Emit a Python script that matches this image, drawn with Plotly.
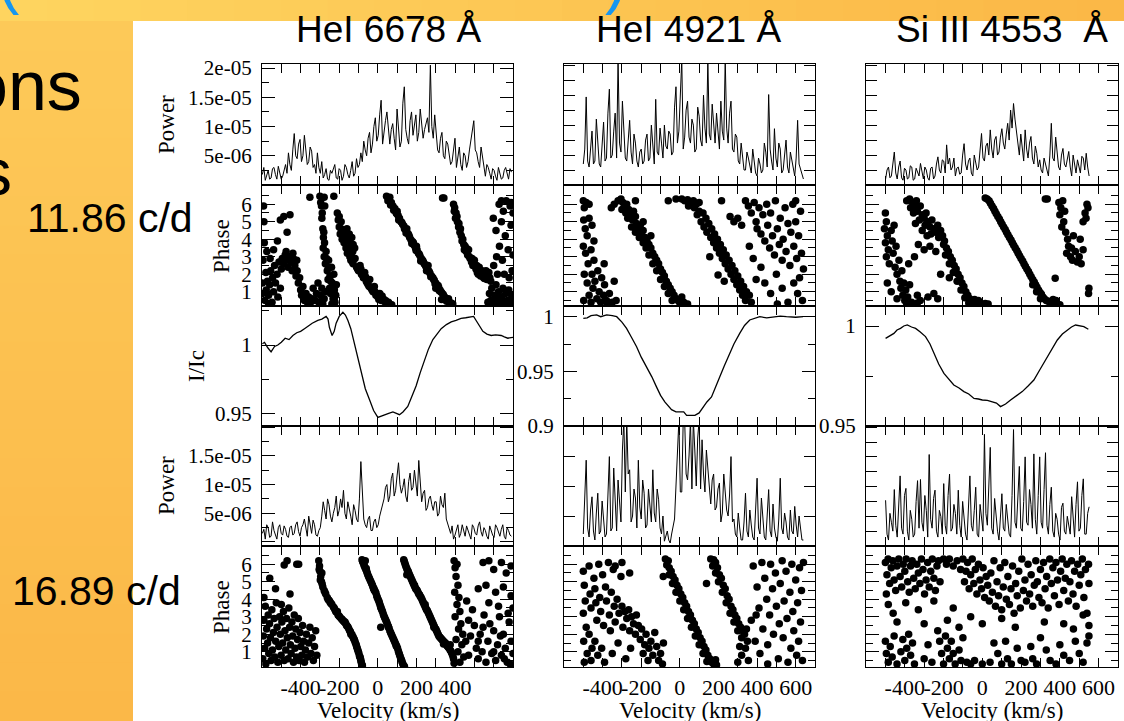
import plotly.graph_objects as go

W, H = 1124, 721

# ---------------- data ----------------
V_HE6678 = [-598,-583,-568,-553,-538,-523,-508,-493,-478,-463,
            -448,-433,-418,-403,-388,-373,-358,-343,-328,-313,
            -298,-283,-268,-253,-238,-223,-208,-193,-178,-163,
            -148,-133,-118,-103,-88,-73,-58,-43,-28,-13,
            2,17,32,47,62,77,92,107,122,137,
            152,167,182,197,212,227,242,257,272,287,
            302,317,332,347,362,377,392,407,422,437,
            452,467,482,497,512,527,542,557,572,587,
            602,617,632,647,662,677,692]
V_HE4921 = [-500,-485,-470,-455,-440,-425,-410,-395,-380,-365,
            -350,-335,-320,-305,-290,-275,-260,-245,-230,-215,
            -200,-185,-170,-155,-140,-125,-110,-95,-80,-65,
            -50,-35,-20,-5,10,25,40,55,70,85,
            100,115,130,145,160,175,190,205,220,235,
            250,265,280,295,310,325,340,355,370,385,
            400,415,430,445,460,475,490,505,520,535,
            550,565,580,595,610,625,640]
V_SI4553 = [-499,-484,-469,-454,-439,-424,-409,-394,-379,-364,
            -349,-334,-319,-304,-289,-274,-259,-244,-229,-214,
            -199,-184,-169,-154,-139,-124,-109,-94,-79,-64,
            -49,-34,-19,-4,11,26,41,56,71,86,
            101,116,131,146,161,176,191,206,221,236,
            251,266,281,296,311,326,341,356,371,386,
            401,416,431,446,461,476,491,506,521,536,
            551]

# power (units of 1e-5) on the grids above, and half-way samples ("MID", 7.5 km/s later)
POW_HE6678_1186 = [0.18,0.08,0.25,0.12,0.30,0.10,0.22,0.15,0.35,
                   0.55,0.25,0.88,0.45,0.78,0.50,0.62,0.40,0.58,
                   0.35,0.55,0.20,0.12,0.28,0.08,0.20,0.35,0.10,0.25,0.15,0.30,0.12,0.40,0.20,0.30,
                   0.55,0.75,0.50,0.90,0.70,1.15,0.85,1.45,0.95,1.25,
                   0.70,1.05,0.60,0.95,0.75,1.68,0.80,1.10,0.85,1.20,
                   0.90,1.10,0.95,1.15,2.05,0.80,0.85,0.55,0.90,0.45,
                   0.70,0.35,0.60,0.30,0.65,0.25,0.50,0.40,0.75,1.10,
                   0.55,0.30,0.45,0.15,0.30,0.10,0.25,0.08,0.20,0.12,
                   0.30,0.10,0.22]
MID_HE6678_1186 = [0.30,0.15,0.10,0.28,0.18,0.32,0.10,0.28,0.20,
                   0.35,0.60,0.50,0.70,0.40,0.85,0.35,0.65,0.30,
                   0.20,0.30,0.40,0.18,0.10,0.25,0.30,0.12,0.28,0.08,0.35,0.18,0.25,0.15,0.45,0.35,
                   0.40,0.60,0.80,0.55,1.00,0.75,1.20,0.70,1.10,0.90,
                   0.95,0.80,1.30,0.65,1.40,0.95,0.70,1.25,1.00,0.75,
                   1.30,0.80,1.05,0.90,1.00,1.20,0.60,0.80,0.50,0.75,
                   0.55,0.40,0.80,0.45,0.35,0.55,0.30,0.60,0.90,0.60,
                   0.40,0.65,0.25,0.35,0.20,0.28,0.15,0.30,0.10,0.25,
                   0.18,0.28]
POW_HE6678_1689 = [0.15,0.05,0.25,0.10,0.20,0.05,0.30,0.12,0.22,0.08,
                   0.28,0.15,0.35,0.10,0.30,0.20,0.45,0.15,0.30,0.10,
                   0.25,0.70,0.40,0.65,0.35,0.60,0.45,0.75,0.90,0.40,
                   0.60,0.30,0.55,0.35,1.40,0.40,0.25,0.45,0.20,0.40,
                   0.30,0.55,0.75,1.00,0.80,1.20,0.90,1.38,0.85,1.10,
                   0.70,1.20,0.95,1.05,1.42,0.70,0.90,0.60,0.80,0.55,
                   0.70,0.50,0.65,0.85,0.30,0.15,0.05,0.20,0.08,0.30,
                   0.10,0.20,0.05,0.25,0.12,0.35,0.10,0.20,0.05,0.18,
                   0.08,0.25,0.10,0.30,0.05,0.20,0.10]
MID_HE6678_1689 = [0.22,0.30,0.08,0.35,0.12,0.25,0.15,0.28,0.10,0.25,
                   0.12,0.30,0.18,0.25,0.40,0.10,0.25,0.38,0.12,0.20,
                   0.45,0.55,0.75,0.45,0.50,0.80,0.55,0.60,0.50,0.70,
                   0.45,0.65,0.40,0.75,0.80,0.30,0.40,0.20,0.35,0.25,
                   0.45,0.70,0.95,0.70,1.10,0.80,1.15,1.00,0.95,0.80,
                   1.05,0.90,1.25,0.80,1.00,0.85,0.55,0.75,0.65,0.70,
                   0.45,0.80,0.60,0.40,0.20,0.28,0.12,0.30,0.15,0.22,
                   0.28,0.10,0.30,0.15,0.28,0.18,0.25,0.10,0.28,0.12,
                   0.30,0.15,0.22,0.10,0.25,0.12]
POW_HE4921_1186 = [0.35,1.47,0.30,0.90,0.40,0.75,0.30,1.05,0.45,1.60,
                   0.50,1.20,2.10,0.55,0.95,0.40,1.08,0.35,0.70,0.30,
                   0.60,0.40,0.85,0.45,0.65,1.43,0.50,0.70,1.00,0.60,
                   0.85,0.55,1.64,0.90,2.10,0.80,1.40,0.70,1.00,0.60,
                   1.15,0.65,0.95,2.10,0.75,1.05,1.20,0.60,0.90,2.10,
                   0.70,1.40,0.55,0.80,0.35,0.50,0.25,0.45,0.20,0.40,
                   0.15,0.35,0.25,0.55,1.51,0.40,0.94,0.30,0.60,0.25,
                   0.75,0.20,0.40,0.15,1.08,0.25,0.10]
MID_HE4921_1186 = [0.60,0.40,0.70,0.35,1.10,0.35,0.80,0.40,1.20,0.45,
                   0.90,0.45,0.70,1.40,0.45,0.75,0.55,0.85,0.40,0.55,
                   0.35,0.75,0.40,1.00,0.35,0.55,0.95,0.45,0.65,0.90,
                   0.50,1.30,0.70,1.50,0.60,1.25,0.80,1.10,0.55,1.30,
                   0.75,1.50,0.70,0.85,1.35,0.70,0.95,1.40,0.75,0.95,
                   1.20,0.60,0.85,0.40,0.70,0.25,0.55,0.30,0.60,0.20,
                   0.45,0.20,0.70,0.30,0.60,0.25,0.45,0.70,0.20,0.50,
                   0.30,0.55,0.25,0.45,0.35,0.20]
POW_HE4921_1689 = [0.20,1.43,0.15,0.82,0.10,0.88,0.25,0.50,0.20,1.49,
                   0.30,0.60,1.10,0.40,2.10,2.10,1.27,0.50,0.80,1.43,
                   0.45,0.88,0.35,0.70,1.27,0.40,0.77,0.20,0.08,0.25,
                   0.05,0.30,1.00,2.10,0.90,2.10,1.10,2.10,2.10,1.00,
                   2.10,1.77,0.90,1.30,0.70,1.20,0.65,1.05,0.55,0.90,
                   0.50,1.49,0.45,0.15,0.30,0.10,0.88,0.15,0.35,0.10,
                   1.13,0.20,0.40,0.10,0.94,0.15,0.30,0.08,1.13,0.20,
                   0.40,0.10,0.25,0.66,0.15,0.30,0.10]
MID_HE4921_1689 = [0.90,0.30,0.60,0.25,0.55,0.20,0.75,0.15,1.00,0.25,
                   1.30,0.25,0.70,1.60,0.90,1.20,0.40,0.95,0.30,0.65,
                   1.10,0.30,0.95,0.40,0.55,0.95,0.30,0.50,0.15,0.10,
                   0.20,0.45,1.50,0.90,2.10,1.20,1.50,0.95,1.60,1.80,
                   0.95,1.20,1.60,0.85,1.10,0.60,0.95,0.40,1.20,0.60,
                   0.85,0.40,0.20,0.55,0.10,0.40,0.25,0.60,0.15,0.70,
                   0.30,0.80,0.15,0.55,0.25,0.70,0.15,0.45,0.30,0.55,
                   0.15,0.60,0.20,0.35,0.50,0.10]
POW_SI4553_1186 = [0.10,0.30,0.15,0.55,0.10,0.40,0.08,0.25,0.12,0.30,
                   0.10,0.22,0.36,0.10,0.25,0.08,0.30,0.15,0.47,0.20,
                   0.40,0.67,0.45,0.30,0.15,0.30,0.20,0.69,0.25,0.45,
                   0.15,0.40,0.30,0.86,0.40,0.70,0.92,0.45,0.81,0.55,
                   0.94,0.60,1.03,1.25,1.36,0.86,0.50,0.58,0.92,0.45,
                   0.81,0.35,0.53,0.42,0.20,0.35,0.15,1.03,0.40,0.58,
                   0.25,0.61,0.30,0.56,0.15,0.35,0.42,0.20,0.45,0.53,
                   0.15]
MID_SI4553_1186 = [0.25,0.12,0.35,0.20,0.30,0.12,0.28,0.10,0.32,0.08,
                   0.28,0.15,0.20,0.30,0.12,0.28,0.10,0.35,0.25,0.42,
                   0.20,0.35,0.25,0.45,0.28,0.18,0.50,0.35,0.40,0.20,
                   0.50,0.25,0.55,0.45,0.65,0.50,0.60,0.75,0.50,0.80,
                   0.70,0.85,0.75,0.95,1.10,0.65,0.85,0.40,0.60,0.70,
                   0.45,0.65,0.30,0.25,0.45,0.25,0.50,0.45,0.80,0.30,
                   0.50,0.35,0.45,0.30,0.50,0.20,0.30,0.48,0.25,0.30]
POW_SI4553_1689 = [0.77,0.10,0.40,0.95,0.15,1.18,0.20,0.97,0.10,0.45,
                   0.20,1.10,1.12,0.25,0.60,1.54,0.30,0.94,0.15,0.50,
                   1.05,0.20,1.21,0.30,0.55,0.94,0.15,0.40,0.10,1.18,
                   0.25,0.99,0.15,0.45,1.88,0.35,1.66,0.20,0.50,0.10,
                   0.88,0.25,0.40,0.15,1.96,0.30,1.34,0.25,1.50,0.35,
                   0.70,1.55,0.20,1.50,0.30,1.57,0.20,0.99,0.15,0.45,
                   0.10,0.72,0.20,0.35,0.83,0.15,1.08,0.30,1.13,0.20,
                   0.66]
MID_SI4553_1689 = [0.20,0.55,0.25,0.35,0.70,0.30,0.85,0.25,0.60,0.15,
                   0.75,0.30,0.40,0.85,0.15,0.45,0.80,0.25,0.60,0.20,
                   0.35,0.85,0.25,0.70,0.20,0.35,0.75,0.20,0.80,0.35,
                   0.60,0.20,0.70,0.25,0.55,0.90,0.30,0.80,0.25,0.60,
                   0.30,0.70,0.20,0.85,0.40,0.90,0.30,0.75,0.40,0.95,
                   0.30,0.45,0.85,0.40,0.95,0.35,0.70,0.25,0.55,0.20,
                   0.65,0.25,0.50,0.20,0.40,0.70,0.25,0.85,0.20,0.55]

# mean line profiles (I/Ic)
PROF_V_HE6678 = [-598,-587,-570,-553,-535,-518,-500,-480,-460,-440,
                 -420,-400,-380,-360,-340,-311,-290,-268,-258,-251,
                 -244,-237,-226,-216,-200,-181,-168,-155,-140,-121,
                 -105,-86,-65,-43,-22,0,17,34,56,78,
                 95,112,130,155,175,198,220,241,262,285,
                 305,328,355,380,405,431,455,483,496,509,
                 525,544,565,587,610,639,655,673,690,704]
PROF_I_HE6678 = [1.001,1.002,0.998,0.995,0.999,1.000,1.002,1.005,1.004,1.007,
                 1.009,1.010,1.012,1.014,1.016,1.018,1.019,1.021,1.019,1.013,
                 1.009,1.007,1.010,1.016,1.021,1.024,1.022,1.018,1.012,1.001,
                 0.992,0.979,0.968,0.960,0.952,0.947,0.948,0.949,0.950,0.951,
                 0.950,0.949,0.951,0.955,0.962,0.970,0.980,0.989,0.997,1.004,
                 1.008,1.012,1.015,1.017,1.018,1.0195,1.020,1.021,1.021,1.018,
                 1.014,1.010,1.008,1.007,1.0075,1.007,1.006,1.005,1.0055,1.0056]
PROF_V_HE4921 = [-500,-480,-460,-431,-410,-379,-350,-327,-300,-276,
                 -250,-224,-200,-172,-145,-121,-100,-78,-60,-43,
                 -20,0,20,35,55,78,100,121,140,164,
                 185,207,230,250,280,310,335,362,390,414,
                 450,483,520,552,600,638]
PROF_I_HE4921 = [0.9985,0.999,1.001,1.0016,1.0,1.0016,1.001,1.0,0.995,0.9893,
                 0.981,0.9725,0.963,0.9541,0.945,0.9358,0.928,0.922,0.918,0.915,
                 0.913,0.9128,0.913,0.9098,0.910,0.9098,0.912,0.9174,0.922,0.9266,
                 0.935,0.945,0.955,0.9633,0.975,0.9847,0.992,0.997,0.999,1.0,
                 0.999,0.9994,1.0005,1.0,0.9995,1.0]
PROF_V_SI4553 = [-499,-478,-456,-440,-422,-405,-387,-365,-344,-320,
                 -293,-270,-250,-225,-198,-170,-147,-120,-95,-70,
                 -43,-20,0,26,52,73,94,120,146,175,
                 206,236,266,296,327,357,387,413,439,460,
                 481,503,524,547]
PROF_I_SI4553 = [0.9938,0.995,0.9963,0.998,0.9988,1.0,1.0005,0.9995,0.9988,0.997,
                 0.9947,0.991,0.9863,0.981,0.9763,0.973,0.9705,0.969,0.9672,0.966,
                 0.9638,0.9635,0.963,0.9628,0.9622,0.9615,0.9597,0.961,0.963,0.965,
                 0.9672,0.970,0.973,0.978,0.983,0.988,0.993,0.996,0.998,0.9995,
                 1.0005,1.0,0.9997,0.9984]

# phase diagrams: (velocity, phase) pairs
PH_HE6678_1186 = [
    (-592,5.9),(-590,5.0),(-588,3.8),(-595,2.8),(-585,0.5),(-578,1.1),(-572,1.6),(-580,2.1),(-566,0.8),(-560,1.4),
    (-558,2.9),(-555,2.2),(-548,0.4),(-545,1.8),(-540,1.0),(-540,3.4),(-535,2.5),(-530,1.5),(-522,2.0),(-520,3.9),
    (-518,0.7),(-512,2.7),(-505,1.2),(-505,5.1),(-500,2.3),(-495,2.9),(-488,2.6),(-487,5.3),(-480,3.1),(-475,3.3),
    (-472,2.8),(-470,4.4),(-465,2.4),(-458,3.0),(-455,5.4),(-450,2.7),(-444,2.2),(-440,3.2),(-438,2.9),(-430,2.5),
    (-424,1.9),(-420,2.8),(-418,2.2),(-412,1.5),(-405,1.8),(-400,1.1),(-395,0.8),(-388,1.3),(-380,0.5),(-372,0.9),
    (-365,0.4),(-358,0.7),(-350,0.35),(-342,0.6),(-575,3.3),(-565,0.3),(-598,1.5),(-598,0.9),
    (-335,1.2),(-325,0.5),(-318,0.9),(-310,1.5),(-305,0.4),(-298,0.8),(-290,1.2),(-285,0.3),(-278,0.6),(-270,1.0),
    (-352,6.4),(-300,6.45),(-278,6.4),(-275,5.9),(-228,6.45),
    (-292,5.9),(-288,5.5),(-285,4.6),(-282,4.1),(-283,3.5),(-278,3.0),(-272,2.6),(-268,3.3),(-262,2.2),(-258,1.7),
    (-255,2.8),(-250,1.2),(-248,1.9),(-245,0.9),(-240,2.4),(-236,1.5),(-232,0.6),(-228,2.0),(-225,1.1),(-222,0.4),
    (-218,0.8),(-238,0.3),
    (-296,6.1),(-290,5.2),(-280,4.4),(-276,3.8),(-266,2.9),(-256,2.4),(-244,1.6),(-235,1.0),(-226,0.6),(-215,1.4),
    (-210,5.5),(-205,5.1),(-200,4.7),(-195,4.3),(-190,5.0),(-185,4.0),(-180,4.5),(-175,3.8),(-170,4.2),(-165,3.5),
    (-160,4.6),(-158,3.2),(-150,3.9),(-145,3.0),(-140,3.6),(-135,4.1),(-130,3.3),(-125,2.9),(-120,3.5),
    (-200,5.3),(-190,4.6),(-178,4.1),(-165,3.9),(-152,3.5),(-138,3.2),(-128,3.7),(-148,4.3),
    (-140,2.8),(-128,2.6),(-118,2.9),(-110,2.4),(-100,2.2),(-92,2.5),(-85,2.0),(-75,1.8),(-68,2.1),(-60,1.6),
    (-50,1.4),(-42,1.7),(-35,1.2),(-25,1.0),(-18,1.3),(-10,0.8),(0,0.7),(10,0.9),(18,0.5),(28,0.6),
    (38,0.4),(48,0.35),(60,0.3),(72,0.25),
    (-132,2.7),(-105,2.3),(-80,1.95),(-55,1.5),(-30,1.1),(-5,0.85),(5,0.55),(22,0.75),(40,0.5),(55,0.4),
    (-88,2.3),(-64,1.85),(-45,1.3),(-15,1.0),
    (45,6.45),(55,6.3),(62,6.4),(70,6.1),(78,5.9),(88,5.75),(95,5.5),(105,5.35),(112,5.2),(120,5.0),
    (128,4.85),(135,4.75),(142,4.55),(150,4.4),(158,4.3),(165,4.1),(172,3.95),(180,3.85),(188,3.65),(195,3.5),
    (203,3.4),(210,3.2),(218,3.05),(225,2.9),(232,2.8),(240,2.6),(248,2.45),(255,2.35),(262,2.2),(270,2.05),
    (278,1.9),(285,1.8),(292,1.65),(300,1.5),(308,1.35),(315,1.25),(322,1.1),(330,0.95),(338,0.85),(345,0.7),
    (352,0.6),(360,0.5),(370,0.4),(380,0.35),(388,0.3),(330,0.55),(300,1.2),(260,2.5),(200,3.6),(150,4.6),(100,5.6),
    (52,6.2),(66,5.95),(82,5.65),(98,5.45),(108,5.1),(124,4.95),(138,4.6),(146,4.35),(162,4.2),(176,3.75),
    (184,3.8),(198,3.35),(214,3.15),(222,2.75),(236,2.7),(244,2.55),(252,2.2),(266,2.15),(274,1.85),(289,1.7),
    (296,1.45),(312,1.35),(318,1.05),(326,1.0),(342,0.75),(356,0.45),(366,0.6),(375,0.3),
    (335,6.35),(342,6.35),
    (392,6.0),(398,5.8),(405,5.5),(402,5.2),(412,5.0),(418,4.7),(425,4.4),(420,4.9),(432,4.2),(440,4.0),
    (445,3.7),(452,3.6),(458,3.3),(465,3.1),(470,3.4),(478,2.9),(485,2.7),(492,2.5),(500,2.8),(508,2.3),
    (515,2.1),(525,2.4),(532,1.9),(540,2.2),(548,1.8),(555,2.0),(565,1.7),(575,2.1),(585,1.6),
    (396,5.6),(410,5.3),(428,4.6),(436,3.9),(448,3.4),(462,3.45),(474,3.0),(488,2.9),(496,2.6),(512,2.5),
    (520,2.0),(536,2.1),(552,1.75),(560,2.2),(580,1.8),
    (570,0.4),(578,0.9),(585,0.5),(590,1.2),(598,0.3),(605,0.8),(612,1.4),(618,0.5),(625,1.0),(632,0.3),
    (640,0.7),(648,1.2),(655,0.4),(662,0.9),(670,0.5),(678,1.1),(685,0.3),(692,0.8),(700,0.5),(600,2.5),
    (615,3.0),(630,3.6),(645,2.8),(660,4.2),(675,3.4),(690,4.8),(700,5.5),(685,5.9),(665,6.2),(650,5.6),
    (640,5.0),(628,6.0),(612,4.5),(598,5.2),(695,2.2),(680,1.8),(655,2.0),(620,2.0),(700,3.1),(690,6.1),(640,6.2)]

PH_HE6678_1689 = [
    (-485,5.95),(-470,6.2),(-420,6.0),(-410,6.0),(-560,5.2),(-530,4.6),(-590,4.1),(-500,3.7),(-455,4.3),
    (-596,0.6),(-593,1.9),(-590,2.8),(-586,1.2),(-583,3.6),(-580,0.3),(-576,2.3),(-571,1.5),(-568,3.1),(-565,0.9),
    (-561,2.6),(-556,1.8),(-553,0.5),(-549,3.4),(-546,1.1),(-541,2.1),(-537,2.9),(-534,0.7),(-529,1.6),(-526,3.8),
    (-522,2.4),(-518,0.4),(-513,1.3),(-509,3.0),(-505,2.0),(-501,0.8),(-497,2.7),(-493,1.5),(-489,3.3),(-485,0.5),
    (-481,2.2),(-477,1.1),(-473,2.9),(-469,1.8),(-465,0.6),(-461,3.5),(-457,2.4),(-453,1.4),(-449,0.9),(-445,2.7),
    (-441,1.9),(-437,0.4),(-433,3.1),(-429,1.2),(-425,2.3),(-421,0.7),(-416,1.7),(-412,2.9),(-408,0.5),(-403,2.1),
    (-399,1.3),(-394,0.8),(-390,2.5),(-385,1.6),(-380,0.4),(-375,1.1),(-370,2.0),(-364,0.7),(-358,1.5),(-352,2.4),
    (-346,0.9),(-340,1.8),(-334,0.5),(-328,1.3),(-322,2.2),(-316,0.8),
    (-306,6.2),(-302,5.9),(-300,5.6),(-296,5.3),(-292,5.0),(-285,4.7),(-278,4.5),(-270,4.3),(-262,4.1),(-255,3.95),
    (-246,3.8),(-238,3.7),(-230,3.55),(-222,3.4),(-214,3.25),(-206,3.1),(-198,3.0),(-190,2.9),(-182,2.8),(-174,2.7),
    (-166,2.6),(-158,2.45),(-150,2.3),(-142,2.15),(-135,2.0),(-128,1.85),(-122,1.7),(-116,1.5),(-110,1.3),(-104,1.1),
    (-98,0.9),(-92,0.7),(-88,0.5),(-84,0.3),(-80,0.2),(-290,5.5),(-250,3.9),(-210,3.3),(-170,2.7),(-140,2.0),
    (-112,1.4),(-95,0.75),
    (-304,5.7),(-298,5.1),(-288,4.85),(-274,4.4),(-258,4.0),(-242,3.75),(-226,3.5),(-218,3.3),(-202,3.05),(-186,2.85),
    (-178,2.75),(-162,2.5),(-154,2.4),(-146,2.2),(-132,1.9),(-125,1.75),(-119,1.6),(-107,1.2),(-101,1.0),(-90,0.6),
    (-86,0.4),(-82,0.25),
    (-82,6.25),(-76,6.1),(-70,5.9),(-62,5.7),(-55,5.5),(-48,5.3),(-40,5.1),(-32,4.9),(-25,4.7),(-18,4.5),
    (-10,4.35),(-3,4.1),(5,3.9),(12,3.65),(20,3.4),(28,3.15),(35,2.95),(43,2.75),(50,2.55),(58,2.35),
    (66,2.1),(74,1.9),(82,1.7),(90,1.5),(98,1.3),(106,1.05),(112,0.85),(118,0.65),(125,0.45),(132,0.25),
    (138,0.15),(-60,5.75),(-20,4.6),(15,3.55),(55,2.4),(95,1.35),(15,2.4),(-65,6.2),
    (-79,6.15),(-73,6.0),(-66,5.8),(-58,5.6),(-52,5.4),(-44,5.2),(-36,5.0),(-28,4.8),(-22,4.6),(-14,4.45),
    (-6,4.2),(1,4.0),(8,3.8),(16,3.5),(24,3.3),(31,3.05),(39,2.85),(47,2.65),(54,2.45),(62,2.2),
    (70,2.0),(78,1.8),(86,1.6),(94,1.4),(102,1.2),(109,0.95),(115,0.75),(122,0.55),(128,0.35),(135,0.2),
    (134,6.25),(140,6.05),(146,5.85),(153,5.65),(160,5.5),(168,5.3),(176,5.1),(184,4.9),(192,4.7),(200,4.55),
    (208,4.4),(216,4.25),(224,4.1),(232,3.9),(240,3.7),(248,3.5),(256,3.35),(264,3.15),(272,2.95),(280,2.75),
    (288,2.55),(296,2.35),(304,2.2),(312,2.0),(320,1.85),(328,1.75),(336,1.65),(345,1.55),(354,1.45),(362,1.3),
    (370,1.2),(378,1.05),(386,0.85),(392,0.6),(395,0.35),(150,5.4),(190,4.8),(245,3.7),(290,2.4),(340,1.45),(375,1.4),
    (137,6.15),(143,5.95),(150,5.75),(157,5.6),(164,5.4),(172,5.2),(180,5.0),(188,4.8),(196,4.6),(204,4.5),
    (212,4.3),(220,4.15),(228,4.0),(236,3.8),(244,3.6),(252,3.4),(260,3.25),(268,3.05),(276,2.85),(284,2.65),
    (292,2.45),(300,2.3),(308,2.1),(316,1.9),(324,1.8),(332,1.7),(340,1.6),(350,1.5),(358,1.35),(366,1.25),
    (374,1.1),(382,0.95),(389,0.75),
    (395,6.2),(400,5.8),(410,6.0),(405,5.3),(415,4.8),(398,4.4),(420,4.1),(410,3.7),(425,3.3),(400,3.0),
    (430,2.6),(418,2.3),(440,2.0),(405,1.7),(435,1.4),(415,1.0),(445,0.7),(425,0.4),(460,3.9),(470,2.8),
    (480,1.9),(490,3.4),(500,2.5),(510,1.2),(520,0.6),(530,2.0),(540,1.0),(550,3.1),(560,0.4),(570,1.6),
    (580,2.6),(590,0.9),(600,2.2),(610,0.5),(620,1.4),(630,3.0),(640,0.8),(650,2.0),(660,1.2),(670,0.4),
    (680,2.7),(690,1.6),(700,0.9),(545,6.1),(575,6.2),(600,5.7),(640,6.1),(665,5.5),(690,5.9),(520,4.6),
    (560,4.8),(610,4.4),(650,4.7),(690,4.2),(700,3.5),(575,3.8),(625,3.6),(675,3.2),(600,1.0),(635,1.9),
    (655,0.6),(685,0.3),(520,1.6),(545,2.4),(470,0.8),(455,1.6)]

PH_HE4921_1186 = [
    (-500,6.2),(-495,5.8),(-485,6.1),(-470,6.0),(-498,5.1),(-490,4.6),(-480,4.2),(-500,3.6),(-488,3.2),(-475,2.6),
    (-495,2.0),(-480,1.5),(-470,0.8),(-498,0.5),(-460,0.4),(-450,1.2),(-455,2.0),(-445,2.8),(-440,1.6),(-430,0.6),
    (-425,2.2),(-418,1.0),(-410,0.4),(-405,1.8),(-395,0.8),(-390,1.4),(-380,0.5),(-460,3.4),(-445,3.9),(-470,5.2),
    (-455,4.8),(-375,0.3),(-365,0.9),(-350,0.4),(-340,1.6),(-330,0.5),(-392,2.6),
    (-320,6.2),(-305,6.3),(-295,6.1),(-285,5.9),(-300,5.7),(-275,6.0),(-265,5.7),(-280,5.5),(-255,5.4),(-240,5.6),
    (-270,5.2),(-245,5.1),(-230,5.3),(-225,4.9),(-250,4.7),(-215,4.6),(-205,4.8),(-230,4.4),(-200,4.3),(-190,4.5),
    (-210,4.1),(-180,4.1),(-170,3.9),(-190,3.8),(-160,3.7),(-175,3.5),(-150,3.5),(-140,3.2),(-160,3.1),(-130,3.0),
    (-120,2.8),(-140,2.6),(-110,2.6),(-100,2.3),(-120,2.2),(-90,2.1),(-80,1.9),(-100,1.7),(-70,1.6),(-60,1.4),
    (-80,1.3),(-50,1.2),(-40,1.0),(-60,0.9),(-30,0.8),(-20,0.6),(-40,0.5),(-10,0.5),(0,0.35),(20,0.4),
    (40,0.3),(10,0.7),(-355,5.8),(-340,6.0),(-230,6.2),(-190,5.0),(-150,4.2),
    (-20,6.3),(10,6.3),(25,6.2),(40,6.25),(55,6.1),(70,6.2),(85,6.0),(100,6.1),(45,5.9),(75,5.8),
    (100,5.6),(120,5.5),(90,5.4),(135,5.2),(110,5.0),(150,4.9),(125,4.7),(165,4.6),(140,4.4),(180,4.3),
    (160,4.1),(195,4.0),(175,3.8),(210,3.7),(190,3.5),(225,3.4),(205,3.2),(240,3.1),(220,2.9),(255,2.8),
    (235,2.6),(270,2.5),(250,2.3),(285,2.2),(265,2.0),(300,1.9),(280,1.7),(315,1.6),(295,1.4),(330,1.3),
    (310,1.1),(345,1.0),(325,0.8),(360,0.8),(340,0.5),(370,0.4),(230,1.6),(198,1.95),(155,3.0),(-60,6.2),
    (216,6.2),(260,5.3),(280,5.0),(300,5.2),(320,4.8),(340,6.2),(355,5.9),(370,5.5),(385,6.1),(395,5.0),
    (400,4.6),(410,5.8),(420,4.3),(430,5.4),(440,3.9),(450,6.0),(455,4.8),(465,3.5),(470,5.5),(480,4.2),
    (490,3.1),(495,6.2),(505,4.6),(515,3.7),(520,5.2),(530,2.8),(535,4.0),(545,5.8),(550,3.3),(560,4.9),
    (570,2.5),(575,4.4),(585,6.0),(590,3.6),(600,5.0),(605,2.9),(615,4.2),(620,1.8),(625,5.6),(630,3.2),
    (635,0.5),(640,2.3),(440,1.5),(470,0.9),(500,2.0),(530,1.2),(560,0.4),(590,1.5),(610,0.9),(420,2.4),
    (380,2.9),(395,1.7),(360,3.6),(505,0.3),(600,6.2)]

PH_HE4921_1689 = [
    (-500,5.6),(-495,4.8),(-490,3.9),(-500,3.2),(-485,2.4),(-498,1.6),(-480,0.9),(-495,0.4),(-470,5.9),(-465,4.3),
    (-460,3.5),(-470,2.0),(-455,1.2),(-460,0.5),(-445,5.2),(-440,4.6),(-435,3.8),(-430,2.8),(-440,1.6),(-425,0.8),
    (-420,6.0),(-415,4.1),(-410,3.3),(-400,5.4),(-395,2.5),(-405,1.2),(-390,0.4),(-385,4.7),(-380,3.9),(-370,6.1),
    (-365,3.1),(-360,2.2),(-355,4.4),(-350,0.9),(-345,5.7),(-340,3.6),(-335,2.7),(-325,4.0),(-320,1.5),(-315,3.2),
    (-305,5.3),(-300,3.6),(-295,2.4),(-285,3.3),(-280,0.6),(-275,2.9),(-265,3.4),(-260,2.2),(-255,1.2),(-250,3.0),
    (-240,2.6),(-230,2.0),(-225,3.1),(-215,2.5),(-205,1.7),(-198,2.3),(-190,0.9),(-182,1.4),(-175,2.0),(-165,0.5),
    (-160,1.2),(-150,1.6),(-140,0.8),(-130,2.1),(-120,1.3),(-110,0.5),(-100,0.9),(-90,0.3),(-85,1.5),(-300,6.1),
    (-260,5.5),(-335,5.9),
    (-75,6.3),(-60,6.2),(-68,5.95),(-55,5.8),(-45,5.6),(-55,5.4),(-35,5.3),(-25,5.1),(-38,4.9),(-15,4.8),
    (-5,4.6),(-20,4.4),(5,4.3),(15,4.1),(0,3.9),(25,3.8),(35,3.6),(20,3.4),(45,3.3),(55,3.1),
    (40,2.9),(65,2.8),(75,2.6),(60,2.4),(85,2.3),(95,2.1),(80,1.9),(105,1.8),(115,1.6),(100,1.4),
    (125,1.3),(135,1.1),(120,0.9),(145,0.8),(155,0.6),(140,0.45),(165,0.4),(175,0.3),(190,0.25),(185,0.55),
    (-86,5.3),
    (160,6.3),(175,6.25),(185,6.1),(170,5.9),(195,5.8),(185,5.5),(205,5.4),(215,5.2),(200,5.0),(225,4.8),
    (235,4.6),(220,4.4),(245,4.2),(255,4.0),(240,3.8),(265,3.6),(275,3.4),(260,3.2),(285,3.1),(295,2.9),
    (280,2.7),(305,2.6),(315,2.4),(300,2.2),(325,2.2),(335,2.0),(345,2.3),(320,1.8),(350,1.6),(310,1.3),
    (138,4.9),
    (300,0.4),(320,0.8),(340,1.2),(355,0.5),(370,2.8),(380,5.9),(390,1.6),(400,4.7),(410,3.5),(415,0.9),
    (425,6.1),(430,2.3),(440,5.2),(450,4.0),(455,1.4),(465,3.1),(470,6.0),(480,4.6),(485,2.0),(495,5.5),
    (500,3.6),(510,0.6),(515,2.6),(520,4.9),(530,6.2),(535,1.8),(540,3.9),(550,5.6),(555,2.9),(560,0.4),
    (570,4.4),(575,1.2),(580,6.0),(585,3.3),(590,2.2),(600,5.1),(605,0.8),(610,3.8),(615,1.6),(620,5.8),
    (625,2.7),(630,4.5),(635,0.5),(640,6.1),(455,0.3),(395,3.1)]

PH_SI4553_1186 = [
    (-500,5.5),(-495,5.0),(-505,4.6),(-490,4.2),(-500,3.8),(-485,3.4),(-495,3.0),(-480,2.6),(-470,4.5),(-465,3.9),
    (-460,3.2),(-455,4.8),(-450,2.4),(-445,3.6),(-440,2.0),(-430,2.8),(-425,1.6),(-420,1.2),(-415,2.2),(-410,0.8),
    (-405,1.5),(-400,0.5),(-395,1.1),(-390,0.3),(-385,0.7),(-375,1.4),(-365,0.4),(-380,2.6),(-490,1.5),(-470,1.0),
    (-440,0.6),(-335,0.35),(-320,0.5),(-335,0.8),(-280,0.7),(-250,0.9),(-230,0.6),
    (-390,6.2),(-375,6.3),(-360,6.1),(-370,5.8),(-350,5.9),(-340,6.2),(-355,5.5),(-335,5.6),(-320,5.9),(-310,5.4),
    (-325,5.1),(-300,5.2),(-290,5.5),(-280,5.0),(-295,4.8),(-270,4.7),(-260,5.1),(-250,4.6),(-265,4.3),(-240,4.4),
    (-230,4.8),(-225,4.1),(-215,4.5),(-205,4.2),(-195,3.9),(-310,4.5),(-345,4.9),(-285,4.2),(-330,3.7),(-300,3.4),
    (-350,3.0),(-270,3.6),(-240,3.3),
    (-200,3.7),(-185,3.5),(-175,3.3),(-190,3.1),(-165,3.0),(-155,2.8),(-170,2.6),(-145,2.5),(-135,2.3),(-150,2.1),
    (-125,2.0),(-115,1.8),(-130,1.6),(-105,1.5),(-95,1.3),(-110,1.1),(-85,1.0),(-75,0.8),(-90,0.65),(-65,0.6),
    (-55,0.45),(-70,0.35),(-45,0.3),(-30,0.35),(-15,0.3),(0,0.28),(15,0.32),(30,0.3),(-40,0.55),(-20,0.5),
    (-170,1.8),(-215,2.0),
    (15,6.35),(25,6.3),(35,6.2),(42,6.05),(50,5.9),(58,5.75),(65,5.6),(72,5.45),(80,5.3),(88,5.15),
    (95,5.0),(102,4.85),(110,4.7),(118,4.55),(125,4.4),(132,4.25),(140,4.1),(148,3.95),(155,3.8),(162,3.65),
    (170,3.5),(178,3.35),(185,3.2),(192,3.05),(200,2.9),(208,2.75),(215,2.6),(222,2.45),(230,2.3),(238,2.15),
    (245,2.0),(252,1.85),(260,1.7),(268,1.55),(275,1.4),(282,1.25),(290,1.1),(298,0.95),(305,0.85),(312,0.7),
    (320,0.6),(330,0.5),(340,0.45),(350,0.4),(360,0.35),(372,0.3),(385,0.28),(400,0.25),(280,1.0),(300,0.6),
    (260,1.4),(380,0.5),(365,0.55),(376,1.76),
    (325,6.3),(335,6.3),
    (395,6.1),(405,5.8),(415,6.2),(400,5.4),(420,5.0),(410,4.7),(430,4.4),(425,5.6),(440,4.0),(445,3.6),
    (435,3.2),(455,3.0),(465,2.8),(460,3.5),(470,4.2),(480,3.3),(490,2.7),(500,3.0),(510,2.6),(520,3.4),
    (530,5.5),(540,6.0),(545,5.8),(535,5.2),(520,5.0),(505,4.0),(550,1.2),(548,0.9)]

PH_SI4553_1689 = [
    (-500,6.1),(-492,5.4),(-486,6.3),(-478,4.9),(-470,5.8),(-462,6.2),(-455,5.1),(-447,4.5),(-440,5.9),(-431,6.3),
    (-424,5.3),(-416,4.7),(-408,6.0),(-400,5.6),(-393,6.3),(-385,5.0),(-377,4.4),(-370,5.9),(-362,6.2),(-354,5.2),
    (-346,4.6),(-338,6.0),(-330,5.5),(-322,4.9),(-314,6.3),(-306,5.7),(-298,4.3),(-290,5.1),(-282,6.1),(-274,4.7),
    (-266,5.6),(-258,6.3),(-250,5.2),(-242,4.5),(-234,5.9),(-226,6.2),(-218,5.0),(-200,6.3),(-185,6.0),(-170,6.3),
    (-150,5.9),(-130,6.2),(-112,5.7),(-100,6.3),(-92,5.0),(-84,5.6),(-76,6.1),(-68,4.6),(-60,5.4),(-52,6.3),
    (-44,4.9),(-36,5.7),(-28,4.3),(-20,6.0),(-12,5.1),(-4,4.6),(4,5.8),(12,4.1),(20,5.3),(28,4.8),
    (36,3.9),(44,5.5),(52,4.4),(60,6.2),(68,3.6),(76,5.0),(84,4.2),(92,5.8),(100,3.4),(108,4.7),
    (116,6.1),(124,4.0),(132,5.3),(140,3.7),(148,4.6),(156,5.9),(164,3.2),(172,4.9),(180,4.2),(188,5.6),
    (196,3.5),(204,6.3),(212,4.5),(220,5.1),(228,3.9),(236,6.0),(244,4.3),(252,5.4),(260,3.6),(268,4.8),
    (276,6.2),(284,5.0),(292,4.1),(300,5.7),(308,3.8),(316,6.1),(324,4.6),(332,5.3),(340,3.5),(348,6.3),
    (356,4.9),(364,5.8),(372,4.2),(380,6.1),(388,5.1),(396,3.7),(404,5.6),(412,6.3),(420,4.5),(428,5.2),
    (436,6.0),(444,3.9),(452,5.0),(460,6.2),(468,4.3),(476,5.6),(484,3.6),(492,6.0),(500,4.8),(508,5.4),
    (516,6.3),(524,4.1),(532,5.7),(540,3.2),(548,6.0),(550,4.9),
    (-495,4.3),(-485,3.7),(-460,3.2),(-440,2.7),(-395,3.8),(-330,3.4),(-300,2.6),(-250,3.9),(-180,2.8),(-150,3.5),
    (-120,2.4),(-60,3.0),(0,2.6),(100,2.9),(170,2.4),(320,2.7),(420,2.6),(520,3.1),(550,2.5),(470,2.3),
    (-500,1.6),(-495,0.9),(-485,0.4),(-475,1.3),(-465,0.7),(-455,1.9),(-440,0.3),(-420,1.0),(-410,1.7),(-400,0.5),
    (-390,1.2),(-380,2.0),(-370,0.8),(-360,1.5),(-350,0.3),(-300,0.6),(-280,1.4),(-260,0.4),(-230,2.2),(-220,1.6),
    (-210,0.9),(-200,0.3),(-190,1.9),(-180,1.2),(-170,0.6),(-160,1.6),(-150,0.9),(-140,0.3),(-120,1.1),(-110,0.5),
    (-100,1.8),(-80,0.4),(-60,0.3),(-40,0.5),(0,0.3),(40,0.4),(60,1.5),(80,0.9),(100,0.3),(120,1.6),
    (130,0.6),(150,0.3),(180,1.2),(200,0.5),(220,0.4),(250,1.3),(260,0.6),(280,0.3),(300,1.8),(330,1.1),
    (350,0.5),(380,0.3),(400,1.4),(420,0.8),(450,0.5),(480,1.6),(500,0.9),(520,0.4),(540,1.5),(550,1.9)]

for g, a, b, ma, mb in [(V_HE6678, POW_HE6678_1186, POW_HE6678_1689, MID_HE6678_1186, MID_HE6678_1689),
                        (V_HE4921, POW_HE4921_1186, POW_HE4921_1689, MID_HE4921_1186, MID_HE4921_1689),
                        (V_SI4553, POW_SI4553_1186, POW_SI4553_1689, MID_SI4553_1186, MID_SI4553_1689)]:
    assert len(g) == len(a) == len(b) == len(ma) + 1 == len(mb) + 1
assert len(PROF_V_HE6678) == len(PROF_I_HE6678)
assert len(PROF_V_HE4921) == len(PROF_I_HE4921)
assert len(PROF_V_SI4553) == len(PROF_I_SI4553)

def merge(grid, vals, mids):
    xs, ys = [], []
    for i, v in enumerate(grid):
        xs.append(v); ys.append(vals[i] * 1e-5)
        if i < len(mids):
            xs.append(v + 7.5); ys.append(mids[i] * 1e-5)
    return xs, ys

# ---------------- layout geometry ----------------
COLS = [(262, 513), (564, 815), (866, 1118)]
ROWS = [(64, 185), (185, 306), (306, 426), (426, 546), (546, 667)]

SERIF = "Liberation Serif, Times New Roman, serif"
SANS = "Liberation Sans, Arial, sans-serif"

fig = go.Figure()

def ax_names(k):
    return ("x" if k == 1 else f"x{k}", "y" if k == 1 else f"y{k}",
            "xaxis" if k == 1 else f"xaxis{k}", "yaxis" if k == 1 else f"yaxis{k}")

power_sets = [(V_HE6678, POW_HE6678_1186, POW_HE6678_1689, MID_HE6678_1186, MID_HE6678_1689),
              (V_HE4921, POW_HE4921_1186, POW_HE4921_1689, MID_HE4921_1186, MID_HE4921_1689),
              (V_SI4553, POW_SI4553_1186, POW_SI4553_1689, MID_SI4553_1186, MID_SI4553_1689)]
prof_sets = [(PROF_V_HE6678, PROF_I_HE6678), (PROF_V_HE4921, PROF_I_HE4921),
             (PROF_V_SI4553, PROF_I_SI4553)]
phase_sets = [(PH_HE6678_1186, PH_HE6678_1689), (PH_HE4921_1186, PH_HE4921_1689),
              (PH_SI4553_1186, PH_SI4553_1689)]

YSPEC = {}
for c in range(3):
    if c == 0:
        YSPEC[(0, c)] = dict(range=[0, 2.07e-5], tv=[0.5e-5, 1e-5, 1.5e-5, 2e-5],
                             tt=["5e-06", "1e-05", "1.5e-05", "2e-05"],
                             mv=[0.25e-5, 0.75e-5, 1.25e-5, 1.75e-5], ml=13, nl=7)
        YSPEC[(3, c)] = dict(range=[-0.07e-5, 2.02e-5], tv=[0, 0.5e-5, 1e-5, 1.5e-5, 2e-5],
                             tt=["", "5e-06", "1e-05", "1.5e-05", ""],
                             mv=[0.25e-5, 0.75e-5, 1.25e-5, 1.75e-5], ml=13, nl=7)
        YSPEC[(2, c)] = dict(range=[0.9407, 1.0286], tv=[0.95, 1.0], tt=["0.95", "1"],
                             mv=[0.975, 1.025], ml=13, nl=7)
    else:
        YSPEC[(0, c)] = dict(range=[0, 2.02e-5], tv=[k * 0.25e-5 for k in range(1, 9)],
                             tt=[""] * 8, mv=[], ml=11, nl=6)
        if c == 1:
            YSPEC[(3, c)] = dict(range=[0, 2.0e-5], tv=[0.5e-5, 1e-5, 1.5e-5],
                                 tt=[""] * 3, mv=[], ml=11, nl=6)
            YSPEC[(2, c)] = dict(range=[0.9, 1.0098], tv=[0.9, 0.95, 1.0],
                                 tt=["0.9", "0.95", "1"], mv=[0.925, 0.975], ml=13, nl=7)
        else:
            YSPEC[(3, c)] = dict(range=[0, 2.02e-5], tv=[k * 0.25e-5 for k in range(1, 9)],
                                 tt=[""] * 8, mv=[], ml=11, nl=6)
            YSPEC[(2, c)] = dict(range=[0.95, 1.01], tv=[0.95, 1.0], tt=["0.95", "1"],
                                 mv=[0.975], ml=13, nl=7)
    ph_lab = ["1", "2", "3", "4", "5", "6"] if c == 0 else [""] * 6
    YSPEC[(1, c)] = dict(range=[0.18, 7.1], tv=[1, 2, 3, 4, 5, 6], tt=ph_lab,
                         mv=[0.5, 1.5, 2.5, 3.5, 4.5, 5.5, 6.5], ml=13, nl=7)
    YSPEC[(4, c)] = dict(range=[0.13, 7.04], tv=[1, 2, 3, 4, 5, 6], tt=ph_lab,
                         mv=[0.5, 1.5, 2.5, 3.5, 4.5, 5.5, 6.5], ml=13, nl=7)

XT = [-500, -400, -300, -200, -100, 0, 100, 200, 300, 400, 500, 600]
XLAB = [
    ["", "-400", "", "-200", "", "0", "", "200", "", "400", "", ""],
    ["", "-400", "", "-200", "", "0", "", "200", "", "400", "", "600"],
    ["", "-400", "", "-200", "", "0", "", "200", "", "400", "", "600"],
]

LW = 1.3
layout_axes = {}
for r in range(5):
    for c in range(3):
        k = r * 3 + c + 1
        xn, yn, xk, yk = ax_names(k)
        x0, x1 = COLS[c]
        ytop, ybot = ROWS[r]
        if r in (0, 3):
            g, pa, pb, ma, mb = power_sets[c]
            xs, ys = merge(g, pa if r == 0 else pb, ma if r == 0 else mb)
            fig.add_trace(go.Scatter(x=xs, y=ys, mode="lines",
                                     line=dict(color="black", width=1.0),
                                     xaxis=xn, yaxis=yn, showlegend=False, hoverinfo="skip"))
        elif r == 2:
            pv, pi = prof_sets[c]
            fig.add_trace(go.Scatter(x=pv, y=pi, mode="lines",
                                     line=dict(color="black", width=1.3),
                                     xaxis=xn, yaxis=yn, showlegend=False, hoverinfo="skip"))
        else:
            pts = phase_sets[c][0 if r == 1 else 1]
            fig.add_trace(go.Scatter(x=[p[0] for p in pts], y=[p[1] for p in pts],
                                     mode="markers",
                                     marker=dict(color="black", size=7.5, line=dict(width=0)),
                                     xaxis=xn, yaxis=yn, showlegend=False, hoverinfo="skip"))
        spec = YSPEC[(r, c)]
        layout_axes[xk] = dict(
            domain=[x0 / W, x1 / W], anchor=yn, range=[-600, 700], automargin=False,
            showline=True, linecolor="black", linewidth=LW, mirror="ticks",
            ticks="inside", ticklen=9, tickwidth=LW, tickcolor="black",
            tickmode="array", tickvals=XT, ticktext=XLAB[c],
            showticklabels=(r == 4), tickangle=0,
            tickfont=dict(family=SERIF, size=22, color="black"),
            ticklabelstandoff=0,
            showgrid=False, zeroline=False, fixedrange=True)
        yd = dict(
            domain=[1 - ybot / H, 1 - ytop / H], anchor=xn, range=spec["range"], automargin=False,
            showline=True, linecolor="black", linewidth=LW, mirror="ticks",
            ticks="inside", ticklen=spec["ml"], tickwidth=LW, tickcolor="black",
            tickmode="array", tickvals=spec["tv"], ticktext=spec["tt"],
            tickfont=dict(family=SERIF, size=21, color="black"),
            ticklabelstandoff=5,
            showgrid=False, zeroline=False, fixedrange=True)
        if spec["mv"]:
            yd["minor"] = dict(tickmode="array", tickvals=spec["mv"], ticks="inside",
                               ticklen=spec["nl"], tickwidth=LW, tickcolor="black",
                               showgrid=False)
        layout_axes[yk] = yd

# ---------------- background shapes ----------------
def lerp_col(c1, c2, t):
    a = [int(c1[i:i + 2], 16) for i in (1, 3, 5)]
    b = [int(c2[i:i + 2], 16) for i in (1, 3, 5)]
    return "#" + "".join(f"{round(a[i] + (b[i] - a[i]) * t):02x}" for i in range(3))

shapes = []
NB = 24
for i in range(NB):
    shapes.append(dict(type="rect", xref="paper", yref="paper", layer="below",
                       x0=i / NB, x1=(i + 1) / NB + 0.002, y0=1 - 21 / H, y1=1,
                       fillcolor=lerp_col("#FED45F", "#FBB847", i / (NB - 1)), line=dict(width=0)))
for i in range(NB):
    ya = 21 + (721 - 21) * i / NB
    yb = 21 + (721 - 21) * (i + 1) / NB
    shapes.append(dict(type="rect", xref="paper", yref="paper", layer="below",
                       x0=0, x1=133 / W, y0=1 - (yb + 1) / H, y1=1 - ya / H,
                       fillcolor=lerp_col("#FDC958", "#FBB848", i / (NB - 1)), line=dict(width=0)))
shapes.append(dict(type="rect", xref="paper", yref="paper", layer="below",
                   x0=133 / W, x1=1, y0=0, y1=1 - 21 / H,
                   fillcolor="white", line=dict(width=0)))

# ---------------- annotations ----------------
ann = []
def A(text, x, y, size, family=SANS, xanchor="center", yanchor="middle", angle=0, color="black"):
    ann.append(dict(text=text, x=x / W, y=1 - y / H, xref="paper", yref="paper",
                    showarrow=False, xanchor=xanchor, yanchor=yanchor, textangle=angle,
                    font=dict(family=family, size=size, color=color)))

A("HeI 6678 Å", 388, 30, 37)
A("HeI 4921 Å", 688, 30, 37)
A("Si III 4553\u00a0\u00a0Å", 1002, 30, 37)
A("ons", 84, 86, 70, xanchor="right")
A("s", 14, 172, 66, xanchor="right")
A("11.86 c/d", 25, 218, 41, xanchor="left")
A("16.89 c/d", 10, 591, 41, xanchor="left")
A("(", -4, -20, 64, xanchor="left", color="#1796F0")
A(")", 603, -20, 64, xanchor="left", color="#1796F0")
for (t, x, y) in [("Power", 166, 125), ("Phase", 221, 246), ("I/Ic", 196, 366),
                  ("Power", 166, 486), ("Phase", 221, 607)]:
    A(t, x, y, 23, family=SERIF, angle=-90)
for xc in (387.5, 689.5, 992):
    A("Velocity (km/s)", xc, 710, 23, family=SERIF)

fig.update_layout(width=W, height=H, margin=dict(l=0, r=0, t=0, b=0, pad=0, autoexpand=False),
                  paper_bgcolor="#FCBE4C", plot_bgcolor="white",
                  showlegend=False, shapes=shapes, annotations=ann, **layout_axes)

fig.write_html("out.html")
